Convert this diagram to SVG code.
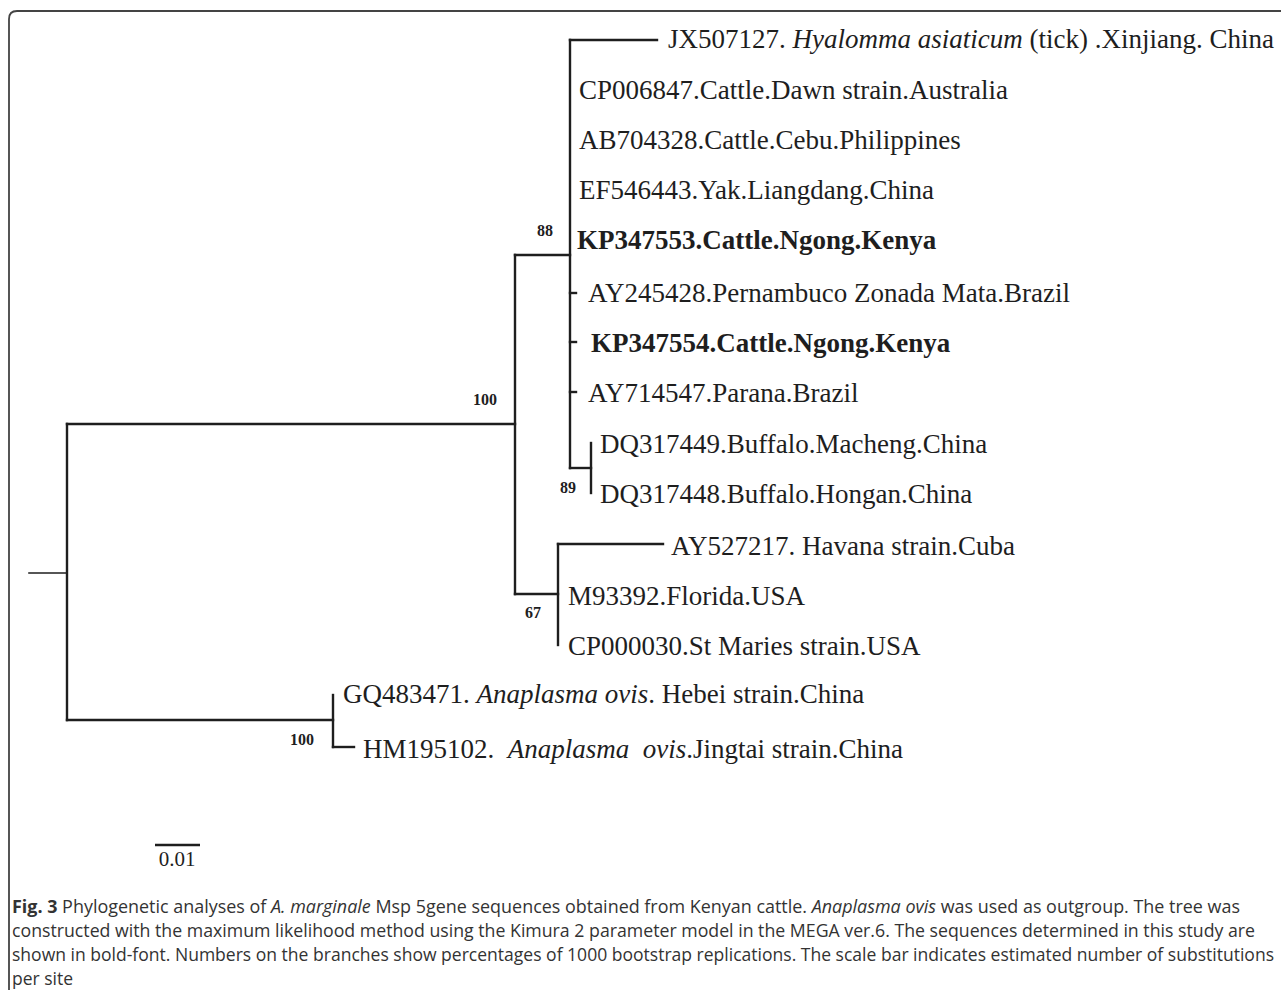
<svg xmlns="http://www.w3.org/2000/svg" width="1281" height="990" viewBox="0 0 1281 990">
<style>
.br{fill:none;stroke:#1e1e1e;stroke-width:2.4;stroke-linecap:square}
.lb{font-family:"Liberation Serif","Times New Roman",serif;font-size:27px;fill:#1e1e1e;white-space:pre}
.b{font-weight:bold}
.i{font-style:italic}
.bs{font-family:"Liberation Serif","Times New Roman",serif;font-size:16px;font-weight:bold;fill:#1e1e1e}
.cap{font-family:"Open Sans","Noto Sans",sans-serif;font-size:17.5px;fill:#333}
</style>
<rect width="1281" height="990" fill="#fff"/>
<path d="M9,990 V19 Q9,11 17,11 H1281" fill="none" stroke="#444" stroke-width="1.8"/>
<g id="connectors">
<path class="br" d="M29,573 H67" style="stroke-width:1.6"/>
<path class="br" d="M67,424 V720"/>
<path class="br" d="M67,424 H515"/>
<path class="br" d="M67,720 H333"/>
<path class="br" d="M515,255 V594"/>
<path class="br" d="M515,255 H570"/>
<path class="br" d="M515,594 H558"/>
<path class="br" d="M570,40 V468"/>
<path class="br" d="M570,40 H657"/>
<path class="br" d="M570,293 H576"/>
<path class="br" d="M570,342 H576"/>
<path class="br" d="M570,392 H576"/>
<path class="br" d="M570,468 H591"/>
<path class="br" d="M591,443 V493"/>
<path class="br" d="M558,544 V645"/>
<path class="br" d="M558,544 H663"/>
<path class="br" d="M333,695 V747"/>
<path class="br" d="M333,747 H354"/>
</g>
<g id="bootstrap">
<text class="bs" x="537" y="236">88</text>
<text class="bs" x="473" y="405">100</text>
<text class="bs" x="560" y="493">89</text>
<text class="bs" x="525" y="618">67</text>
<text class="bs" x="290" y="745">100</text>
</g>
<g id="leaf-JX507127"><text class="lb" x="668" y="48">JX507127. <tspan class="i">Hyalomma asiaticum</tspan> (tick) .Xinjiang. China</text></g>
<g id="leaf-CP006847"><text class="lb" x="579" y="99">CP006847.Cattle.Dawn strain.Australia</text></g>
<g id="leaf-AB704328"><text class="lb" x="579" y="149">AB704328.Cattle.Cebu.Philippines</text></g>
<g id="leaf-EF546443"><text class="lb" x="579" y="199">EF546443.Yak.Liangdang.China</text></g>
<g id="leaf-KP347553"><text class="lb b" x="577" y="249">KP347553.Cattle.Ngong.Kenya</text></g>
<g id="leaf-AY245428"><text class="lb" x="588" y="302">AY245428.Pernambuco Zonada Mata.Brazil</text></g>
<g id="leaf-KP347554"><text class="lb b" x="591" y="352">KP347554.Cattle.Ngong.Kenya</text></g>
<g id="leaf-AY714547"><text class="lb" x="588" y="402">AY714547.Parana.Brazil</text></g>
<g id="leaf-DQ317449"><text class="lb" x="600" y="453">DQ317449.Buffalo.Macheng.China</text></g>
<g id="leaf-DQ317448"><text class="lb" x="600" y="503">DQ317448.Buffalo.Hongan.China</text></g>
<g id="leaf-AY527217"><text class="lb" x="671" y="555">AY527217. Havana strain.Cuba</text></g>
<g id="leaf-M93392"><text class="lb" x="568" y="605">M93392.Florida.USA</text></g>
<g id="leaf-CP000030"><text class="lb" x="568" y="655">CP000030.St Maries strain.USA</text></g>
<g id="leaf-GQ483471"><text class="lb" x="343" y="703">GQ483471. <tspan class="i">Anaplasma ovis</tspan>. Hebei strain.China</text></g>
<g id="leaf-HM195102"><text class="lb" x="363" y="758">HM195102.  <tspan class="i">Anaplasma  ovis</tspan>.Jingtai strain.China</text></g>
<g id="scale-bar">
<path d="M155,845 H200" stroke="#1e1e1e" stroke-width="2.6"/>
<text class="lb" x="177" y="866" text-anchor="middle" style="font-size:21px">0.01</text>
</g>
<g id="caption">
<text class="cap" x="12" y="913" textLength="1228" lengthAdjust="spacingAndGlyphs"><tspan font-weight="bold">Fig. 3</tspan> Phylogenetic analyses of <tspan font-style="italic">A. marginale</tspan> Msp 5gene sequences obtained from Kenyan cattle. <tspan font-style="italic">Anaplasma ovis</tspan> was used as outgroup. The tree was</text>
<text class="cap" x="12" y="937" textLength="1243" lengthAdjust="spacingAndGlyphs">constructed with the maximum likelihood method using the Kimura 2 parameter model in the MEGA ver.6. The sequences determined in this study are</text>
<text class="cap" x="12" y="961" textLength="1262" lengthAdjust="spacingAndGlyphs">shown in bold-font. Numbers on the branches show percentages of 1000 bootstrap replications. The scale bar indicates estimated number of substitutions</text>
<text class="cap" x="12" y="985">per site</text>
</g>
</svg>
